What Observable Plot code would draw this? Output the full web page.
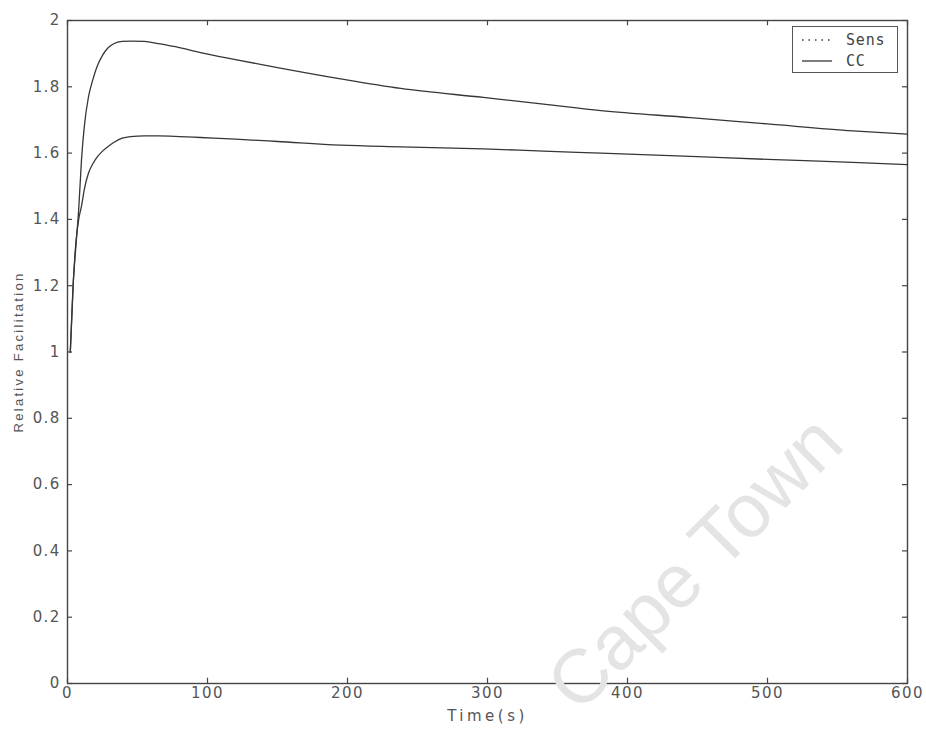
<!DOCTYPE html>
<html>
<head>
<meta charset="utf-8">
<script src="https://cdn.jsdelivr.net/npm/d3@7"></script>
<script src="https://cdn.jsdelivr.net/npm/@observablehq/plot@0.6"></script>
<style>
  body { margin: 0; background: #fff; }
  #wrap { position: relative; width: 926px; height: 731px; overflow: hidden; }
  #wrap svg g[aria-label="x-axis tick label"] text { letter-spacing: 1.5px; }
  #wrap svg g[aria-label="y-axis tick label"] text { letter-spacing: 1.3px; }
  #wrap svg text[aria-label="x title"] { letter-spacing: 3.5px; }
  #wrap svg text[aria-label="y title"] { letter-spacing: 2.3px; }
  #legend {
    position: absolute; left: 792px; top: 26px; width: 106px; height: 47px;
    border: 1px solid #555; background: #fff; box-sizing: border-box;
    font-family: "DejaVu Sans Mono", monospace; font-size: 15px; color: #444;
  }
  #legend .row { position: absolute; left: 8px; height: 17px; display: flex; align-items: center; }
  #legend .row span { margin-left: 13px; letter-spacing: 0.8px; }
  #mark {
    position: absolute; left: 694px; top: 562px; pointer-events: none;
    transform: translate(-50%, -50%) rotate(-45deg);
    font-family: "Liberation Sans", Arial, sans-serif; font-size: 76px;
    color: #e4e4e4; white-space: nowrap;
  }
</style>
</head>
<body>
<div id="wrap"></div>
<script>
// Relative facilitation over time for the two models
const time = [2, 4, 6, 8, 10, 12, 15, 18, 21, 25, 29, 33, 39, 45, 55, 65, 80, 95, 120, 150, 195, 238, 297, 340, 381, 445, 500, 561, 600];
const sens = [1.0, 1.2, 1.32, 1.43, 1.58, 1.68, 1.77, 1.82, 1.86, 1.895, 1.918, 1.93, 1.937, 1.938, 1.937, 1.93, 1.918, 1.903, 1.882, 1.858, 1.824, 1.795, 1.768, 1.748, 1.728, 1.707, 1.688, 1.667, 1.657];
const cc   = [1.0, 1.2, 1.33, 1.4, 1.44, 1.49, 1.54, 1.567, 1.587, 1.606, 1.62, 1.632, 1.645, 1.65, 1.652, 1.652, 1.65, 1.647, 1.642, 1.635, 1.624, 1.619, 1.613, 1.606, 1.6, 1.59, 1.581, 1.572, 1.565];
const seriesNames = ["Sens", "CC"];

const xTicks = [0, 100, 200, 300, 400, 500, 600];
const yTicks = [0, 0.2, 0.4, 0.6, 0.8, 1, 1.2, 1.4, 1.6, 1.8, 2];

const rows = [
  ...time.map((t, i) => ({t, v: sens[i], series: seriesNames[0]})),
  ...time.map((t, i) => ({t, v: cc[i], series: seriesNames[1]}))
];

const ink = "#363636";
const axisInk = "#444";

const chart = Plot.plot({
  width: 926,
  height: 731,
  marginLeft: 67,
  marginRight: 19,
  marginTop: 20,
  marginBottom: 48,
  style: {fontFamily: "'DejaVu Sans', sans-serif", fontSize: "15px", color: "#555", background: "transparent"},
  x: {domain: [0, 600]},
  y: {domain: [0, 2]},
  marks: [
    Plot.frame({stroke: axisInk, strokeWidth: 1.4}),
    // inward-pointing ticks on all four sides
    Plot.ruleX(xTicks, {x: d => d, y1: 0, y2: 0.016, stroke: axisInk, strokeWidth: 1.2}),
    Plot.ruleX(xTicks, {x: d => d, y1: 2, y2: 1.984, stroke: axisInk, strokeWidth: 1.2}),
    Plot.ruleY(yTicks, {y: d => d, x1: 0, x2: 3.6, stroke: axisInk, strokeWidth: 1.2}),
    Plot.ruleY(yTicks, {y: d => d, x1: 600, x2: 596.4, stroke: axisInk, strokeWidth: 1.2}),
    Plot.axisX(xTicks, {anchor: "bottom", tickSize: 0, tickPadding: 4, label: null}),
    Plot.axisY(yTicks, {anchor: "left", tickSize: 0, tickPadding: 7, label: null, tickFormat: d => String(d)}),
    Plot.text(["Time(s)"], {ariaLabel: () => "x title", frameAnchor: "bottom", dy: 37, fontSize: 15, fill: "#555"}),
    Plot.text(["Relative Facilitation"], {ariaLabel: () => "y title", frameAnchor: "left", textAnchor: "middle", dx: -49, rotate: -90, fontSize: 13, fontFamily: "'Liberation Sans', Arial, sans-serif", fill: "#555"}),
    Plot.line(rows, {x: "t", y: "v", z: "series", curve: "monotone-x", stroke: ink, strokeWidth: 1.3})
  ]
});

const wrap = document.getElementById("wrap");
wrap.appendChild(chart);

const legend = document.createElement("div");
legend.id = "legend";
legend.innerHTML = `
  <div class="row" style="top:4px"><svg width="32" height="4"><line x1="1" y1="2" x2="31" y2="2" stroke="${ink}" stroke-width="1.3" stroke-dasharray="1.5,5"/></svg><span>${seriesNames[0]}</span></div>
  <div class="row" style="top:25px"><svg width="32" height="4"><line x1="1" y1="2" x2="31" y2="2" stroke="${ink}" stroke-width="1.3"/></svg><span>${seriesNames[1]}</span></div>`;
wrap.appendChild(legend);

const mark = document.createElement("div");
mark.id = "mark";
mark.textContent = "Cape Town";
wrap.appendChild(mark);
</script>
</body>
</html>
